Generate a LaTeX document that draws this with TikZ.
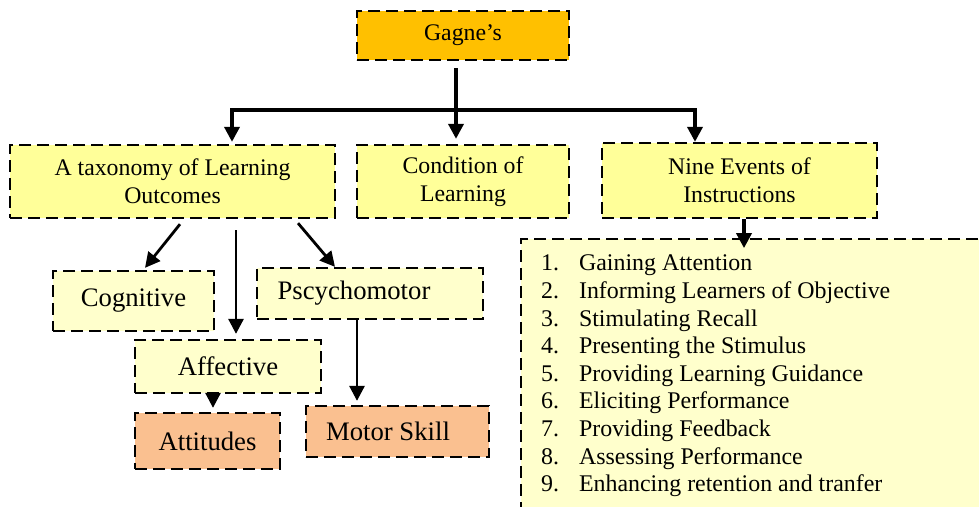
\documentclass[tikz,border=0pt]{standalone}
\usepackage{fontspec}
\setmainfont{Liberation Serif}
\usetikzlibrary{arrows.meta,calc}
\definecolor{gold}{HTML}{FFC000}
\definecolor{yel}{HTML}{FFFF99}
\definecolor{pale}{HTML}{FFFFCC}
\definecolor{peach}{HTML}{FAC090}
\begin{document}
\begin{tikzpicture}[x=1pt,y=-1pt,
  box/.style={draw, line width=2.3pt, dash pattern=on 12pt off 6pt, inner sep=0pt, align=center, font=\fontsize{23.8}{28}\selectfont},
  big/.style={font=\fontsize{26.7}{30}\selectfont},
  conn/.style={line width=3.6pt, -{Triangle[length=15pt,width=15pt]}},
  sconn/.style={line width=2.8pt, -{Triangle[length=15pt,width=15pt]}},
  item/.style={anchor=base west, inner sep=0pt, font=\fontsize{23.9}{28}\selectfont}]
\useasboundingbox (0,0) rectangle (979,506);
\clip (0,0) rectangle (979,506);
\fill[white] (0,0) rectangle (979,506);

% top level
\node[box, fill=gold, minimum width=212pt, minimum height=49pt] (gagne) at (463,35.5) {Gagne’s};
\node[box, fill=yel, minimum width=325pt, minimum height=73pt] (tax) at (172.5,181.5) {A taxonomy of Learning\\Outcomes};
\node[box, fill=yel, minimum width=212pt, minimum height=73pt] (cond) at (463,181.5) {Condition of\\Learning};
\node[box, fill=yel, minimum width=275pt, minimum height=75pt] (nine) at (739.5,180.5) {Nine Events of\\Instructions};

% list box
\node[box, fill=pale, minimum width=479pt, minimum height=291pt] (list) at (760.5,384.5) {};
\foreach \n/\t [count=\i from 0] in {1/Gaining Attention,2/Informing Learners of Objective,3/Stimulating Recall,4/Presenting the Stimulus,5/Providing Learning Guidance,6/Eliciting Performance,7/Providing Feedback,8/Assessing Performance,9/Enhancing retention and tranfer}{
  \node[item] (num\n) at ($(list.north west)+(21,33+27.6*\i)$) {\n.};
  \node[item] (itm\n) at ($(list.north west)+(59,33+27.6*\i)$) {\t};
}

% second level
\node[box, big, fill=pale, minimum width=161pt, minimum height=60pt] (cog) at (133.5,301) {Cognitive};
\node[box, big, fill=pale, minimum width=186pt, minimum height=53pt] (aff) at (228,366.5) {Affective};
\node[box, big, fill=peach, minimum width=145pt, minimum height=56pt] (att) at (207.5,441) {Attitudes};
\node[box, big, fill=pale, minimum width=226pt, minimum height=51pt] (psy) at (370,293.5) {Pscychomotor\hspace{32pt}};
\node[box, big, fill=peach, minimum width=183pt, minimum height=51pt] (mot) at (397.5,431.5) {Motor Skill\hspace{19pt}};

% top connectors
\coordinate (hl) at (232,110);
\coordinate (hm) at (456,110);
\coordinate (hr) at (695,110);
\draw[line width=3.6pt, line cap=rect] (hl) -- (hr);
\draw[conn] ($(hm|-gagne.south)+(0,7)$) -- ($(hm|-cond.north)+(0,-5)$);
\draw[conn] (hl) -- ($(hl|-tax.north)+(0,-2)$);
\draw[conn] (hr) -- (hr|-nine.north);
\draw[conn] ($(nine.south)+(4.5,0)$) -- ++(0,29);

% lower connectors
\draw[sconn] ($(tax.south)+(7.5,5)$) -- ($(cog.north)+(11.5,-2)$);
\draw[sconn] ($(tax.south)+(63.5,11)$) -- ($(aff.north)+(8,-5)$);
\draw[sconn] ($(tax.south)+(125.5,4)$) -- ($(psy.north)+(-35,0)$);
\draw[sconn] ($(aff.south)+(-15,0)$) -- ($(att.north)+(5.5,-4)$);
\draw[sconn] ($(psy.south)+(-13,0)$) -- ($(mot.north)+(-40.5,-4)$);
\end{tikzpicture}
\end{document}
